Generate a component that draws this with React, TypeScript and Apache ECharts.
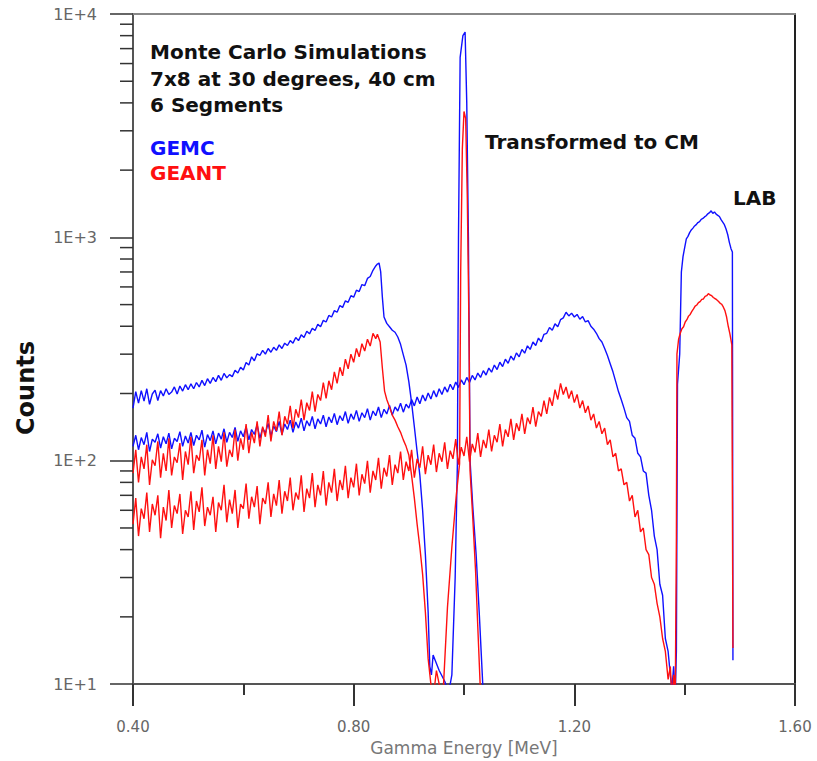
import React, { useEffect, useRef } from "react";
import * as echarts from "echarts";

// Histogram bins for the continuum parts (start energy and bin width, MeV)
const BIN_START = 0.4;
const BIN_WIDTH = 0.005;

// Axis ticks
const X_MIN = 0.4;
const X_MAX = 1.6;
const X_INTERVAL = 0.4;
const Y_MIN = 10;
const Y_MAX = 10000;
const Y_MINOR_TICKS = [20, 30, 40, 50, 60, 70, 80, 90, 200, 300, 400, 500, 600, 700, 800, 900, 2000, 3000, 4000, 5000, 6000, 7000, 8000, 9000];

// GEMC, transformed to CM: continuum 0.400 .. 0.840
const gemcCmCont = [
  172, 204, 181, 206, 185, 210, 179, 199, 207, 186,
  206, 195, 210, 198, 203, 214, 199, 216, 205, 219,
  208, 221, 210, 224, 214, 229, 217, 233, 222, 236,
  226, 241, 229, 246, 235, 243, 238, 254, 247, 262,
  255, 275, 268, 292, 280, 301, 296, 312, 300, 318,
  306, 322, 312, 330, 318, 336, 328, 345, 336, 356,
  345, 366, 356, 380, 370, 392, 383, 408, 398, 425,
  418, 447, 440, 470, 462, 495, 486, 520, 512, 548,
  540, 580, 572, 615, 608, 655, 668, 712, 745,
];
// GEMC CM: Compton edge fall-off and full-energy line at 1.0 MeV
const gemcCmEdge: [number, number][] = [
  [0.843, 760], [0.846, 768], [0.849, 700], [0.852, 540], [0.855, 440], [0.86, 412], [0.865, 398],
  [0.87, 384], [0.875, 376], [0.88, 358], [0.885, 332], [0.89, 298], [0.895, 268], [0.9, 226],
  [0.905, 182], [0.91, 142], [0.915, 110], [0.92, 86], [0.925, 60], [0.93, 38], [0.935, 21],
  [0.938, 12], [0.941, 11], [0.944, 13.5], [0.955, 11.5], [0.965, 10.3], [0.97, 9.5], [0.975, 10],
  [0.978, 11], [0.984, 30], [0.988, 97], [0.99, 1000], [0.993, 6400], [0.998, 8000], [1.002, 8300],
  [1.005, 4000], [1.008, 1000], [1.011, 100], [1.016, 62], [1.022, 38], [1.028, 20], [1.034, 10], [1.037, 8],
];

// GEANT, transformed to CM: continuum 0.400 .. 0.840
const geantCmCont = [
  88, 112, 80, 104, 92, 118, 78, 101, 95, 122,
  84, 108, 90, 126, 86, 104, 98, 120, 82, 110,
  96, 128, 88, 106, 100, 124, 86, 112, 97, 130,
  92, 116, 99, 134, 94, 112, 104, 138, 100, 126,
  112, 146, 108, 134, 120, 150, 116, 142, 128, 160,
  122, 150, 136, 166, 130, 158, 146, 176, 140, 170,
  156, 188, 152, 182, 168, 204, 166, 198, 186, 224,
  190, 228, 208, 250, 222, 262, 240, 285, 258, 300,
  276, 318, 292, 334, 310, 350, 326, 372, 352,
];
const geantCmEdge: [number, number][] = [
  [0.843, 368], [0.848, 340], [0.852, 260], [0.856, 205], [0.86, 188], [0.865, 174], [0.87, 160],
  [0.875, 152], [0.88, 142], [0.885, 134], [0.89, 124], [0.895, 116], [0.9, 106], [0.905, 86],
  [0.91, 68], [0.915, 52], [0.92, 41], [0.925, 31], [0.93, 21], [0.935, 13], [0.94, 10], [0.945, 9],
  [0.95, 11.5], [0.955, 10], [0.962, 9], [0.97, 22], [0.978, 41], [0.986, 70], [0.992, 97],
  [0.994, 700], [0.997, 2500], [1.0, 3660], [1.003, 3400], [1.006, 1500], [1.009, 400], [1.011, 90],
  [1.016, 55], [1.021, 32], [1.025, 18], [1.03, 9],
];

// GEMC, LAB frame: continuum 0.400 .. 1.370
const gemcLabCont = [
  116, 130, 112, 127, 118, 134, 110, 125, 121, 132,
  114, 128, 119, 133, 113, 126, 122, 135, 116, 129,
  120, 134, 117, 130, 124, 137, 115, 131, 123, 136,
  119, 133, 125, 139, 121, 134, 127, 141, 122, 136,
  128, 142, 124, 138, 131, 145, 126, 140, 133, 147,
  129, 143, 135, 150, 131, 146, 138, 152, 134, 149,
  140, 155, 136, 151, 143, 158, 139, 154, 146, 160,
  142, 157, 148, 163, 145, 159, 151, 166, 147, 162,
  153, 168, 150, 164, 156, 171, 152, 167, 159, 174,
  156, 170, 162, 177, 160, 174, 167, 181, 165, 179,
  172, 188, 176, 193, 180, 197, 185, 201, 189, 206,
  193, 210, 198, 214, 203, 220, 208, 225, 213, 230,
  219, 236, 224, 241, 230, 247, 236, 253, 242, 260,
  249, 268, 256, 276, 264, 285, 273, 294, 282, 304,
  292, 315, 303, 327, 315, 340, 328, 354, 341, 368,
  372, 395, 384, 410, 398, 428, 436, 462, 445, 458,
  440, 452, 430, 442, 418, 424, 400, 388, 372, 352,
  340, 318, 296, 272, 250, 226, 204, 188, 172, 156,
  150, 130, 126, 108, 104, 90, 88, 70, 60, 46,
  40, 28, 25, 16, 14,
];
// GEMC LAB: Doppler-broadened full-energy peak
const gemcLabEdge: [number, number][] = [
  [1.374, 11], [1.377, 9.5], [1.38, 12], [1.383, 9], [1.385, 14], [1.387, 220], [1.391, 300],
  [1.394, 700], [1.397, 820], [1.4, 900], [1.403, 985], [1.406, 1010], [1.409, 1050], [1.412, 1080],
  [1.415, 1100], [1.418, 1125], [1.421, 1140], [1.424, 1165], [1.427, 1175], [1.43, 1205],
  [1.433, 1215], [1.436, 1235], [1.439, 1250], [1.442, 1275], [1.445, 1290], [1.448, 1315],
  [1.451, 1280], [1.454, 1300], [1.457, 1270], [1.46, 1255], [1.463, 1240], [1.466, 1200],
  [1.469, 1170], [1.472, 1140], [1.475, 1090], [1.478, 1030], [1.481, 950], [1.484, 890],
  [1.4865, 860], [1.4875, 12.8],
];

// GEANT, LAB frame: continuum 0.400 .. 1.370
const geantLabCont = [
  52, 68, 46, 61, 55, 72, 48, 64, 57, 70,
  45, 62, 54, 74, 50, 63, 58, 71, 47, 60,
  56, 73, 49, 66, 59, 76, 51, 62, 57, 69,
  48, 65, 60, 78, 53, 67, 58, 74, 50, 64,
  61, 79, 55, 69, 62, 77, 52, 68, 64, 80,
  56, 71, 63, 82, 58, 73, 66, 84, 60, 72,
  67, 86, 59, 75, 68, 88, 62, 78, 70, 90,
  63, 80, 72, 92, 66, 82, 74, 95, 68, 84,
  76, 97, 70, 87, 79, 100, 72, 90, 82, 103,
  75, 93, 85, 106, 78, 96, 88, 110, 82, 99,
  90, 112, 84, 102, 93, 116, 87, 106, 96, 118,
  89, 108, 99, 121, 92, 111, 102, 125, 96, 115,
  105, 128, 99, 119, 109, 133, 104, 124, 114, 138,
  110, 130, 121, 146, 116, 138, 128, 154, 124, 147,
  136, 162, 132, 156, 146, 174, 142, 166, 158, 186,
  162, 192, 176, 208, 188, 222, 198, 214, 190, 206,
  182, 198, 172, 186, 164, 176, 152, 162, 140, 150,
  132, 140, 118, 124, 104, 108, 90, 92, 78, 80,
  66, 70, 56, 60, 48, 50, 40, 38, 30, 28,
  23, 20, 16, 14, 10.5,
];
const geantLabEdge: [number, number][] = [
  [1.374, 12], [1.377, 8.5], [1.38, 11], [1.383, 9], [1.385, 46], [1.386, 300], [1.389, 350],
  [1.392, 372], [1.395, 390], [1.398, 398], [1.401, 418], [1.404, 428], [1.407, 444], [1.41, 452],
  [1.413, 466], [1.416, 478], [1.419, 492], [1.422, 498], [1.425, 510], [1.428, 516], [1.431, 528],
  [1.434, 530], [1.437, 544], [1.44, 548], [1.443, 560], [1.446, 552], [1.449, 548], [1.452, 538],
  [1.455, 532], [1.458, 526], [1.461, 518], [1.464, 508], [1.467, 502], [1.47, 488], [1.473, 470],
  [1.476, 440], [1.479, 400], [1.482, 370], [1.4855, 330], [1.4875, 14.5],
];

const BLUE = "#1010ff";
const RED = "#ff1010";
const FONT = "DejaVu Sans";

function build(cont: number[], edge: [number, number][]) {
  const pts: [number, number][] = cont.map((v, i) => [Number((BIN_START + i * BIN_WIDTH).toFixed(3)), v]);
  return pts.concat(edge);
}

function lineSeries(name: string, data: [number, number][], color: string) {
  return {
    name,
    type: "line",
    data,
    showSymbol: false,
    symbol: "none",
    clip: true,
    lineStyle: { color, width: 1.4 },
    itemStyle: { color },
    emphasis: { disabled: true },
    z: 3,
  };
}

export default function App() {
  const ref = useRef<HTMLDivElement>(null);

  useEffect(() => {
    if (!ref.current) return;
    const chart = echarts.init(ref.current, null, { renderer: "svg" });
    const textStyle = (text: string, color = "#111") => ({
      text,
      fill: color,
      font: `bold 20px "${FONT}"`,
      verticalAlign: "middle" as const,
    });
    chart.setOption({
      animation: false,
      backgroundColor: "#ffffff",
      grid: { left: 133, right: 22, top: 14, bottom: 72, containLabel: false },
      xAxis: [
        {
          type: "value",
          min: X_MIN,
          max: X_MAX,
          interval: X_INTERVAL,
          position: "bottom",
          axisLine: { show: true, onZero: false, lineStyle: { color: "#555", width: 2 } },
          axisTick: { show: true, inside: false, length: 22, lineStyle: { color: "#333", width: 2 } },
          minorTick: { show: true, splitNumber: 2, length: 11, lineStyle: { color: "#333", width: 2 } },
          splitLine: { show: false },
          minorSplitLine: { show: false },
          axisLabel: {
            formatter: (v: number) => v.toFixed(2),
            margin: 35,
            color: "#666",
            fontSize: 15,
            fontFamily: FONT,
          },
          name: "Gamma Energy [MeV]",
          nameLocation: "middle",
          nameGap: 52,
          nameTextStyle: { color: "#777", fontSize: 17, fontFamily: FONT },
        },
        {
          type: "value",
          min: X_MIN,
          max: X_MAX,
          position: "top",
          axisLine: { show: true, onZero: false, lineStyle: { color: "#888", width: 2 } },
          axisTick: { show: false },
          axisLabel: { show: false },
          splitLine: { show: false },
        },
      ],
      yAxis: [
        {
          type: "log",
          logBase: 10,
          min: Y_MIN,
          max: Y_MAX,
          axisLine: { show: true, onZero: false, lineStyle: { color: "#555", width: 2 } },
          axisTick: { show: true, inside: false, length: 23, lineStyle: { color: "#333", width: 1.5 } },
          splitLine: { show: false },
          axisLabel: {
            formatter: (v: number) => "1E+" + Math.round(Math.log10(v)),
            margin: 36,
            color: "#666",
            fontSize: 16,
            fontFamily: FONT,
          },
        },
        {
          type: "log",
          logBase: 10,
          min: Y_MIN,
          max: Y_MAX,
          position: "right",
          axisLine: { show: true, onZero: false, lineStyle: { color: "#222", width: 2 } },
          axisTick: { show: false },
          axisLabel: { show: false },
          splitLine: { show: false },
        },
      ],
      series: [
        lineSeries("GEMC LAB", build(gemcLabCont, gemcLabEdge), BLUE),
        lineSeries("GEMC CM", build(gemcCmCont, gemcCmEdge), BLUE),
        lineSeries("GEANT LAB", build(geantLabCont, geantLabEdge), RED),
        lineSeries("GEANT CM", build(geantCmCont, geantCmEdge), RED),
        {
          type: "custom",
          name: "minorTicks",
          coordinateSystem: "cartesian2d",
          clip: false,
          silent: true,
          encode: { x: 0, y: 1 },
          data: Y_MINOR_TICKS.map((v) => [X_MIN, v]),
          renderItem: (_p: any, api: any) => {
            const pt = api.coord([api.value(0), api.value(1)]);
            return {
              type: "line",
              shape: { x1: pt[0] - 13, y1: pt[1], x2: pt[0], y2: pt[1] },
              style: { stroke: "#333", lineWidth: 1.5 },
            };
          },
          z: 5,
        },
      ],
      graphic: [
        { type: "text", left: 150, top: 42, style: textStyle("Monte Carlo Simulations") },
        { type: "text", left: 150, top: 69, style: textStyle("7x8 at 30 degrees, 40 cm") },
        { type: "text", left: 150, top: 95, style: textStyle("6 Segments") },
        { type: "text", left: 150, top: 138, style: textStyle("GEMC", BLUE) },
        { type: "text", left: 150, top: 163, style: textStyle("GEANT", RED) },
        { type: "text", left: 485, top: 132, style: textStyle("Transformed to CM") },
        { type: "text", left: 733, top: 188, style: textStyle("LAB") },
        {
          type: "text",
          x: 26,
          y: 388,
          rotation: Math.PI / 2,
          style: {
            text: "Counts",
            fill: "#111",
            font: `bold 24px "${FONT}"`,
            align: "center",
            verticalAlign: "middle",
          },
        },
      ],
    });
    return () => chart.dispose();
  }, []);

  return (
    <div
      ref={ref}
      style={{ position: "absolute", left: 0, top: 0, width: 817, height: 761, background: "#fff" }}
    />
  );
}
